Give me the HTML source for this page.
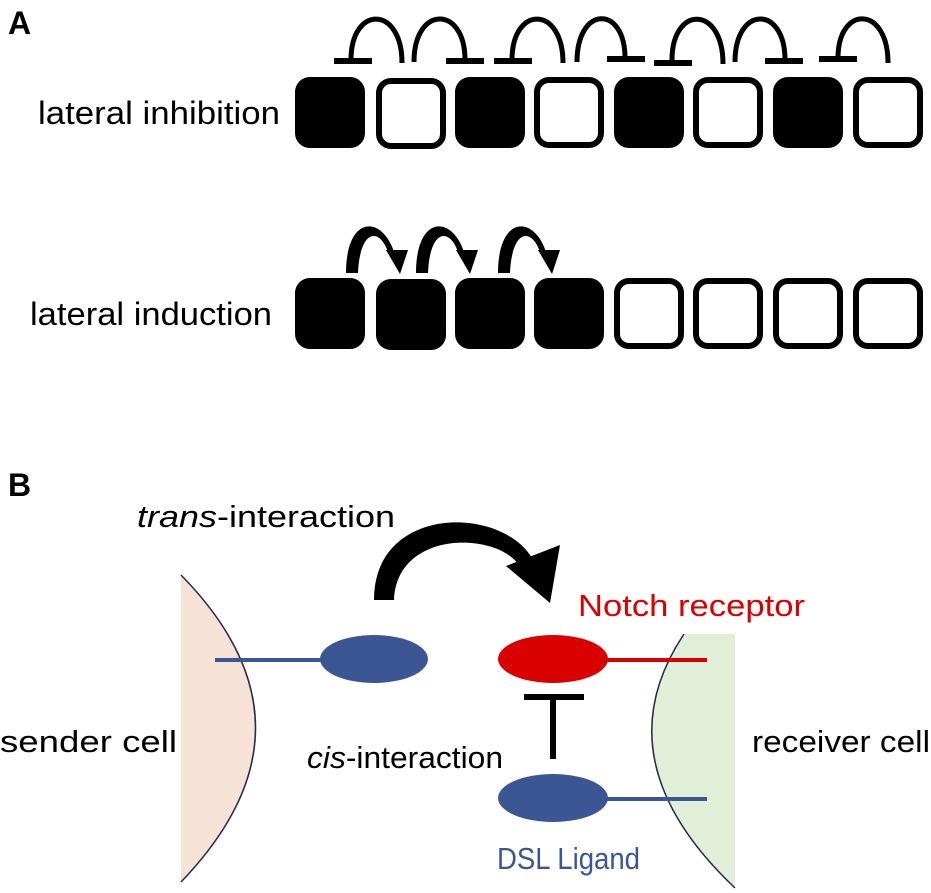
<!DOCTYPE html>
<html><head><meta charset="utf-8"><style>
body{margin:0;background:#fff;}
svg{display:block;font-family:"Liberation Sans",sans-serif;}
</style></head><body>
<svg width="931" height="893" viewBox="0 0 931 893" xmlns="http://www.w3.org/2000/svg">
<text x="8" y="34" font-size="32" font-weight="bold">A</text>
<text x="8" y="496" font-size="32" font-weight="bold">B</text>
<text x="38" y="124" font-size="32" textLength="242" lengthAdjust="spacingAndGlyphs">lateral inhibition</text>
<text x="30" y="325" font-size="32" textLength="242" lengthAdjust="spacingAndGlyphs">lateral induction</text>
<!-- row 1 -->
<g stroke="#000" stroke-width="6">
<rect x="298" y="80" width="64" height="65" rx="12" fill="#000"/>
<rect x="379" y="81" width="64" height="65" rx="12" fill="#fff"/>
<rect x="458" y="80" width="64" height="65" rx="12" fill="#000"/>
<rect x="537" y="80" width="64" height="65" rx="12" fill="#fff"/>
<rect x="617" y="80" width="64" height="65" rx="12" fill="#000"/>
<rect x="696" y="80" width="64" height="65" rx="12" fill="#fff"/>
<rect x="776" y="80" width="64" height="65" rx="12" fill="#000"/>
<rect x="856" y="80" width="64" height="65" rx="12" fill="#fff"/>
</g>
<g stroke="#000" stroke-width="5" fill="none">
<path d="M351 60 C351 5 402 5 402 63"/>
<path d="M414 62 C414 5 465 5 465 60"/>
<path d="M512 60 C512 5 563 5 563 63"/>
<path d="M577 62 C577 5 625 5 625 58"/>
<path d="M672 60 C672 5 723 5 723 64"/>
<path d="M735 62 C735 5 785 5 785 60"/>
<path d="M838 58 C838 5 888 5 888 63"/>
</g>
<g fill="#000">
<rect x="334" y="58" width="38" height="6"/>
<rect x="446" y="58" width="38" height="6"/>
<rect x="494" y="58" width="38" height="6"/>
<rect x="607" y="56" width="38" height="6"/>
<rect x="654" y="60" width="38" height="6"/>
<rect x="765" y="58" width="38" height="6"/>
<rect x="819" y="56" width="38" height="6"/>
</g>
<!-- row 2 -->
<g stroke="#000" stroke-width="6">
<rect x="298" y="281" width="64" height="65" rx="12" fill="#000"/>
<rect x="379" y="282" width="64" height="65" rx="12" fill="#000"/>
<rect x="458" y="281" width="64" height="65" rx="12" fill="#000"/>
<rect x="537" y="281" width="64" height="65" rx="12" fill="#000"/>
<rect x="617" y="281" width="64" height="65" rx="12" fill="#fff"/>
<rect x="696" y="281" width="64" height="65" rx="12" fill="#fff"/>
<rect x="776" y="281" width="64" height="65" rx="12" fill="#fff"/>
<rect x="856" y="281" width="64" height="65" rx="12" fill="#fff"/>
</g>
<g fill="#000">
<g id="ar">
<path d="M346 273 C346 215 382 215 394 252 L388 252 C380 228 360 228 358 273 Z"/>
<path d="M386 250 L408 250 L400 274 Z"/>
</g>
<use href="#ar" x="70"/>
<use href="#ar" x="152"/>
</g>
<!-- B -->
<path d="M181 575 Q330 727 181 882 Z" fill="#f6e3d5"/>
<path d="M181 575 Q330 727 181 882" fill="none" stroke="#1f2d4d" stroke-width="1.5"/>
<path d="M684 634 L735 634 L735 888 Q600 760 684 634 Z" fill="#e2efd8"/>
<path d="M684 634 Q600 760 735 888" fill="none" stroke="#1f2d4d" stroke-width="1.5"/>
<line x1="215" y1="660" x2="330" y2="660" stroke="#3c5593" stroke-width="4"/>
<ellipse cx="374" cy="659" rx="54" ry="24" fill="#3c5593"/>
<line x1="590" y1="660" x2="707" y2="660" stroke="#d90000" stroke-width="4"/>
<ellipse cx="553" cy="659" rx="55" ry="24" fill="#d90000"/>
<line x1="590" y1="799" x2="707" y2="799" stroke="#3c5593" stroke-width="4"/>
<ellipse cx="553" cy="798" rx="55" ry="24" fill="#3c5593"/>
<rect x="524" y="694" width="60" height="6" fill="#000"/>
<rect x="550" y="697" width="6" height="62" fill="#000"/>
<path d="M374 600 C374 505 500 505 532 558 L518 564 C495 532 397 530 394 600 Z" fill="#000"/>
<path d="M506 566 L560 545 L550 603 Z" fill="#000"/>
<text x="137" y="527" font-size="31" textLength="258" lengthAdjust="spacingAndGlyphs"><tspan font-style="italic">trans</tspan>-interaction</text>
<text x="307" y="768" font-size="31" textLength="196" lengthAdjust="spacingAndGlyphs"><tspan font-style="italic">cis</tspan>-interaction</text>
<text x="0" y="752" font-size="31" textLength="177" lengthAdjust="spacingAndGlyphs">sender cell</text>
<text x="752" y="752" font-size="31" textLength="178" lengthAdjust="spacingAndGlyphs">receiver cell</text>
<text x="578" y="616" font-size="31" fill="#d90000" textLength="227" lengthAdjust="spacingAndGlyphs">Notch receptor</text>
<text x="497" y="869" font-size="31" fill="#3c5593" textLength="143" lengthAdjust="spacingAndGlyphs">DSL Ligand</text>
</svg>
</body></html>
